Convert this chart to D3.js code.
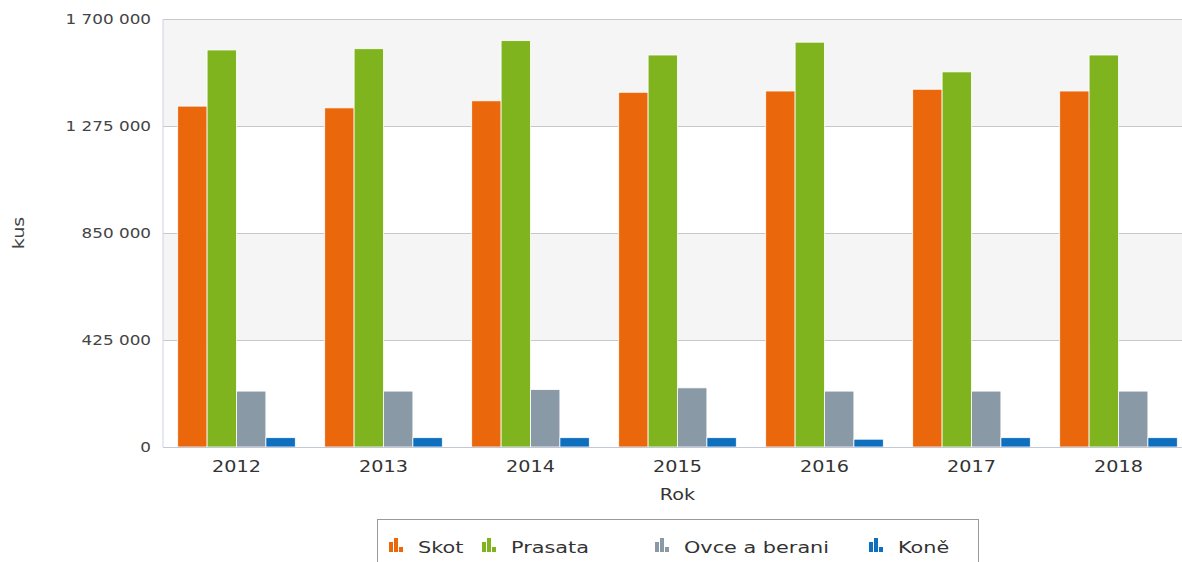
<!DOCTYPE html>
<html>
<head>
<meta charset="utf-8">
<script src="https://cdn.jsdelivr.net/npm/d3@7"></script>
<style>
  body { margin: 0; background: #fff; }
  svg { display: block; font-family: "DejaVu Sans", Verdana, sans-serif; }
</style>
</head>
<body>
<div id="chart"></div>
<script>
// data
const years = ["2012", "2013", "2014", "2015", "2016", "2017", "2018"];
const seriesNames = ["Skot", "Prasata", "Ovce a berani", "Koně"];
const skot = [1354000, 1347000, 1375000, 1409000, 1414000, 1421000, 1414000];
const prasata = [1577000, 1582000, 1614000, 1557000, 1608000, 1490000, 1557000];
const ovce = [222000, 222000, 228000, 235000, 222000, 222000, 222000];
const kone = [37000, 37000, 37000, 37000, 31000, 37000, 37000];
const yTicks = [0, 425000, 850000, 1275000, 1700000];
const colors = ["#ea670b", "#80b41f", "#8a99a6", "#0e6fbf"];

const series = [skot, prasata, ovce, kone];

function drawChart() {
    const width = 1182, height = 562;
    const left = 163, top = 19, plotW = 1029, plotH = 428;
    const sx = 1.2; // text in the picture is a bit wide

    const svg = d3.select("#chart").append("svg")
        .attr("width", width)
        .attr("height", height);

    const x = d3.scaleBand()
        .domain(years)
        .range([left, left + plotW])
        .paddingInner(0.2)
        .paddingOuter(0.1);

    const xInner = d3.scaleBand()
        .domain(seriesNames)
        .range([0, x.bandwidth()]);

    const y = d3.scaleLinear()
        .domain([0, 1700000])
        .range([top + plotH, top]);

    const fmt = d3.formatLocale({ decimal: ",", thousands: " ", grouping: [3], currency: ["", ""] }).format(",d");

    // stretched text helper
    function label(g, tx, ty, txt, anchor, size, fill, rot, scale) {
        return g.append("text")
            .attr("transform", `translate(${tx},${ty})` + (rot ? ` rotate(${rot})` : "") + ` scale(${scale || sx},1)`)
            .attr("text-anchor", anchor)
            .attr("font-size", size)
            .attr("fill", fill)
            .text(txt);
    }

    // alternating bands
    const bands = svg.append("g");
    for (let i = 0; i < yTicks.length - 1; i++) {
        if (i % 2 === 1) {
            bands.append("rect")
                .attr("x", left)
                .attr("y", y(yTicks[i + 1]))
                .attr("width", plotW)
                .attr("height", y(yTicks[i]) - y(yTicks[i + 1]))
                .attr("fill", "#f5f5f5");
        }
    }

    // grid
    svg.append("g")
        .attr("transform", `translate(${left},0)`)
        .call(d3.axisLeft(y).tickValues(yTicks).tickSize(-plotW).tickFormat(""))
        .call(g => g.select(".domain").remove())
        .call(g => g.selectAll("line").attr("stroke", "#c8c8c8"));

    // y tick labels
    const yl = svg.append("g");
    yTicks.forEach(t => label(yl, 151, y(t) + 5, fmt(t), "end", 14, "#444"));

    // bars
    const groups = svg.append("g").selectAll("g")
        .data(years)
        .join("g")
        .attr("transform", d => `translate(${x(d)},0)`);

    groups.selectAll("rect")
        .data((d, i) => series.map((s, k) => ({ name: seriesNames[k], value: s[i], k: k })))
        .join("rect")
        .attr("x", d => xInner(d.name))
        .attr("y", d => y(d.value))
        .attr("width", xInner.bandwidth())
        .attr("height", d => y(0) - y(d.value))
        .attr("fill", d => colors[d.k])
        .attr("stroke", "#fff")
        .attr("stroke-width", 0.8);

    // axis lines
    svg.append("line")
        .attr("x1", left).attr("x2", left)
        .attr("y1", top).attr("y2", top + plotH)
        .attr("stroke", "#ccd3e6");
    svg.append("line")
        .attr("x1", left).attr("x2", left + plotW)
        .attr("y1", top + plotH + 0.5).attr("y2", top + plotH + 0.5)
        .attr("stroke", "#c0c8da");

    // x labels
    const xl = svg.append("g");
    years.forEach(yr => label(xl, x(yr) + x.bandwidth() / 2, 472, yr, "middle", 16, "#333"));

    // axis titles
    label(svg, left + plotW / 2, 500, "Rok", "middle", 16, "#333");
    label(svg, 24, top + plotH / 2, "kus", "middle", 16, "#444", -90);

    // legend
    const lg = svg.append("g");
    lg.append("rect")
        .attr("x", 377.5).attr("y", 519.5)
        .attr("width", 601).attr("height", 60)
        .attr("fill", "#fff")
        .attr("stroke", "#999");

    const legendX = [389, 482, 655, 869];
    seriesNames.forEach((name, k) => {
        const ix = legendX[k];
        const icon = lg.append("g").attr("transform", `translate(${ix},538)`);
        [[0, 10], [5, 14], [10, 5]].forEach(b => {
            icon.append("rect")
                .attr("x", b[0]).attr("y", 14 - b[1])
                .attr("width", 4).attr("height", b[1])
                .attr("fill", colors[k]);
        });
        label(lg, ix + 29, 553, name, "start", 16, "#333", 0, 1.3);
    });
}

drawChart();
</script>
</body>
</html>
